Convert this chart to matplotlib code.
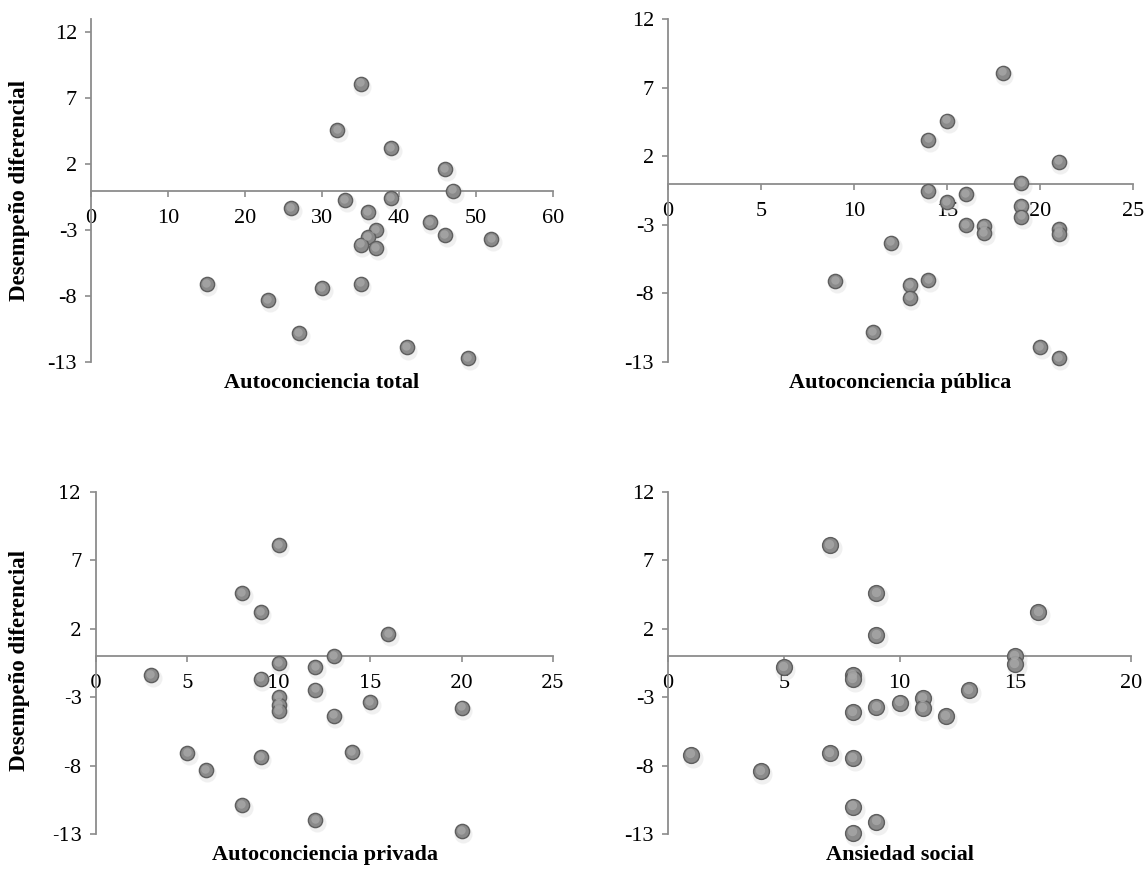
import matplotlib.pyplot as plt
import matplotlib.transforms as mtransforms

plt.rcParams["axes.unicode_minus"] = False

W, H = 1147, 869

# Desempeño diferencial vs. each predictor
total_x = [35, 32, 39, 46, 47, 39, 33, 26, 36, 44, 37, 46, 36, 52, 35, 37, 35, 15, 30, 23, 27, 41, 49]
total_y = [8.1, 4.6, 3.2, 1.6, 0.0, -0.55, -0.75, -1.35, -1.65, -2.4, -3.0, -3.4, -3.55, -3.7, -4.1, -4.35,
           -7.05, -7.1, -7.4, -8.3, -10.8, -11.9, -12.7]

publica_x = [18, 15, 14, 21, 19, 14, 16, 15, 19, 19, 16, 21, 17, 17, 21, 12, 14, 9, 13, 13, 11, 20, 21]
publica_y = [8.1, 4.6, 3.2, 1.6, 0.05, -0.5, -0.75, -1.35, -1.65, -2.4, -3.0, -3.3, -3.1, -3.6, -3.7, -4.3,
             -7.05, -7.1, -7.4, -8.3, -10.8, -11.9, -12.7]

privada_x = [10, 8, 9, 16, 13, 10, 12, 3, 9, 12, 10, 15, 10, 10, 20, 13, 14, 5, 9, 6, 8, 12, 20]
privada_y = [8.1, 4.6, 3.2, 1.6, 0.0, -0.5, -0.8, -1.4, -1.65, -2.45, -3.0, -3.37, -3.6, -4.0, -3.76, -4.35,
             -7.0, -7.1, -7.4, -8.35, -10.9, -12.0, -12.8]

ansiedad_x = [7, 9, 16, 9, 15, 15, 5, 8, 8, 13, 11, 10, 9, 11, 8, 12, 7, 1, 8, 4, 8, 9, 8]
ansiedad_y = [8.1, 4.6, 3.2, 1.56, 0.0, -0.6, -0.8, -1.4, -1.7, -2.5, -3.05, -3.4, -3.7, -3.8, -4.1, -4.4,
              -7.1, -7.2, -7.46, -8.4, -11.0, -12.1, -12.9]

y_ticks = [-13, -8, -3, 2, 7, 12]

panels = [
    # x, y, xmax, xstep, xlabel, left px, right px, top px, bottom px, ytop, tick font, marker size
    (total_x, total_y, 60, 10, "Autoconciencia total", 91, 553, 19, 362, 13, "Liberation Serif", 105),
    (publica_x, publica_y, 25, 5, "Autoconciencia pública", 668, 1133, 19, 362, 12, "Liberation Serif", 105),
    (privada_x, privada_y, 25, 5, "Autoconciencia privada", 96, 553, 492, 834, 12, "DejaVu Serif", 105),
    (ansiedad_x, ansiedad_y, 20, 5, "Ansiedad social", 668, 1131, 492, 834, 12, "Liberation Serif", 130),
]

fig = plt.figure(figsize=(W / 100, H / 100), dpi=100)
axis_grey = "#8c8c8c"

for xs, ys, xmax, xstep, xlabel, l, r, t, b, ytop, tfont, ms in panels:
    ax = fig.add_axes([l / W, 1 - b / H, (r - l) / W, (b - t) / H])
    ax.set_xlim(0, xmax)
    ax.set_ylim(-13, ytop)

    # soft drop shadow, body, highlight -> Excel-like 3D bubbles
    shadow = mtransforms.offset_copy(ax.transData, fig=fig, x=1.2, y=-2.2, units="points")
    ax.scatter(xs, ys, s=ms * 1.6, color="#c4c4c4", alpha=0.25, lw=0, transform=shadow,
               zorder=2, clip_on=False)
    ax.scatter(xs, ys, s=ms, facecolor="#8a8a8a", edgecolor="#5e5e5e", lw=1.0, zorder=3, clip_on=False)
    hi = mtransforms.offset_copy(ax.transData, fig=fig, x=-0.6, y=0.9, units="points")
    ax.scatter(xs, ys, s=ms * 0.35, color="#a8a8a8", alpha=0.8, lw=0, transform=hi,
               zorder=4, clip_on=False)

    for side in ("top", "right"):
        ax.spines[side].set_visible(False)
    ax.spines["bottom"].set_position(("data", 0))
    for side in ("left", "bottom"):
        ax.spines[side].set_color(axis_grey)
        ax.spines[side].set_linewidth(1.3)

    ax.set_xticks(range(0, xmax + 1, xstep))
    ax.set_yticks(y_ticks)
    size = 16 if tfont == "Liberation Serif" else 13.5
    ax.tick_params(axis="x", direction="out", length=4, width=1.2, color=axis_grey, pad=9, labelsize=size)
    ax.tick_params(axis="y", direction="out", length=4, width=1.2, color=axis_grey, pad=6, labelsize=size)
    for lab in ax.get_xticklabels() + ax.get_yticklabels():
        lab.set_fontfamily(tfont)

    fig.text((l + r) / 2 / W, 1 - (b + 21) / H, xlabel, ha="center", va="center",
             fontsize=16, fontweight="bold", family="Liberation Serif")

for yc in (190, 660):
    fig.text(20 / W, 1 - yc / H, "Desempeño diferencial", rotation=90, ha="center", va="center",
             fontsize=16.5, fontweight="bold", family="Liberation Serif")

fig.savefig("out.png", dpi=100)
